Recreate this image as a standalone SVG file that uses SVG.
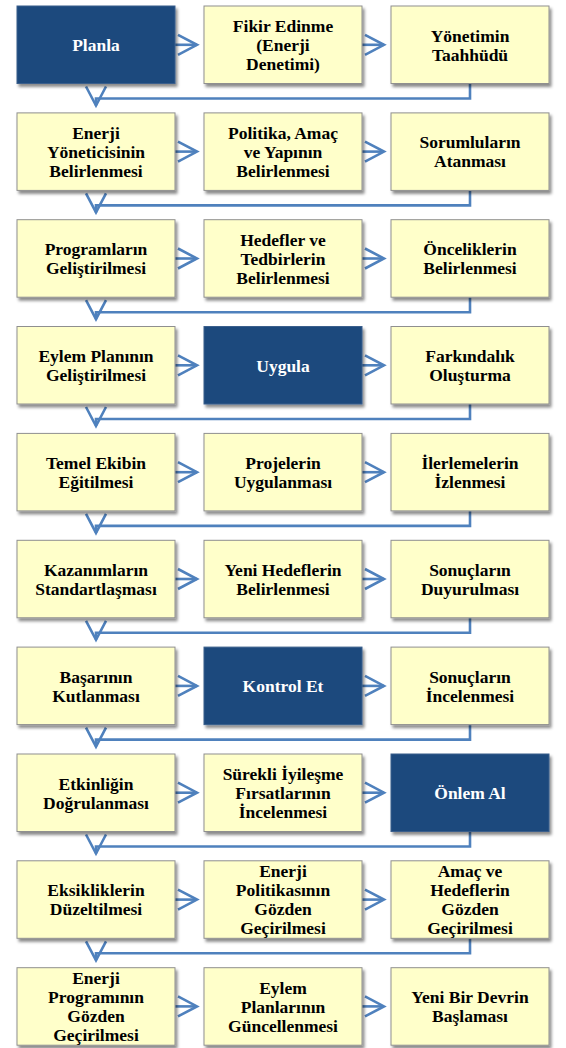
<svg xmlns="http://www.w3.org/2000/svg" width="566" height="1048" viewBox="0 0 566 1048">
<defs>
<filter id="sh" x="-10%" y="-10%" width="125%" height="130%">
<feDropShadow dx="2" dy="3" stdDeviation="1.6" flood-color="#000" flood-opacity="0.45"/>
</filter>
<marker id="chev" markerUnits="userSpaceOnUse" markerWidth="24" markerHeight="24" viewBox="0 0 24 24" refX="21" refY="12" orient="auto">
<path d="M2,2 L21,12 L2,22" fill="none" stroke="#4F81BD" stroke-width="2.6"/>
</marker>
</defs>
<style>
.b{fill:#FFFFCA;stroke:#8F8F8F;stroke-width:1;filter:url(#sh)}
.d{fill:#1F497D;stroke:#3A5F8C;stroke-width:1;filter:url(#sh)}
.w{fill:#fff}
.c{fill:none;stroke:#4F81BD;stroke-width:2.6}
</style>
<g id="connectors">
<path class="c" marker-end="url(#chev)" d="M175,44.8H197"/><path class="c" marker-end="url(#chev)" d="M362,44.8H384"/>
<path class="c" marker-end="url(#chev)" d="M175,151.6H197"/><path class="c" marker-end="url(#chev)" d="M362,151.6H384"/>
<path class="c" marker-end="url(#chev)" d="M175,258.5H197"/><path class="c" marker-end="url(#chev)" d="M362,258.5H384"/>
<path class="c" marker-end="url(#chev)" d="M175,365.3H197"/><path class="c" marker-end="url(#chev)" d="M362,365.3H384"/>
<path class="c" marker-end="url(#chev)" d="M175,472.2H197"/><path class="c" marker-end="url(#chev)" d="M362,472.2H384"/>
<path class="c" marker-end="url(#chev)" d="M175,579H197"/><path class="c" marker-end="url(#chev)" d="M362,579H384"/>
<path class="c" marker-end="url(#chev)" d="M175,685.9H197"/><path class="c" marker-end="url(#chev)" d="M362,685.9H384"/>
<path class="c" marker-end="url(#chev)" d="M175,792.7H197"/><path class="c" marker-end="url(#chev)" d="M362,792.7H384"/>
<path class="c" marker-end="url(#chev)" d="M175,899.6H197"/><path class="c" marker-end="url(#chev)" d="M362,899.6H384"/>
<path class="c" marker-end="url(#chev)" d="M175,1006.4H197"/><path class="c" marker-end="url(#chev)" d="M362,1006.4H384"/>
<path class="c" marker-end="url(#chev)" d="M470,83.5V98.5H96V105.5"/>
<path class="c" marker-end="url(#chev)" d="M470,190.4V205.4H96V212.4"/>
<path class="c" marker-end="url(#chev)" d="M470,297.2V312.2H96V319.2"/>
<path class="c" marker-end="url(#chev)" d="M470,404V419H96V426"/>
<path class="c" marker-end="url(#chev)" d="M470,510.9V525.9H96V532.9"/>
<path class="c" marker-end="url(#chev)" d="M470,617.8V632.8H96V639.8"/>
<path class="c" marker-end="url(#chev)" d="M470,724.6V739.6H96V746.6"/>
<path class="c" marker-end="url(#chev)" d="M470,831.5V846.5H96V853.5"/>
<path class="c" marker-end="url(#chev)" d="M470,938.3V953.3H96V960.3"/>
</g>
<g font-weight="bold" font-size="17.5" text-anchor="middle">
<g id="n1"><rect class="d" x="17" y="6" width="158" height="77.5"/><text font-family="Liberation Serif" class="w" x="96" y="51">Planla</text></g>
<g id="n2"><rect class="b" x="204" y="6" width="158" height="77.5"/><text font-family="Liberation Serif" x="283" y="32">Fikir Edinme</text><text font-family="Liberation Serif" x="283" y="51">(Enerji</text><text font-family="Liberation Serif" x="283" y="70">Denetimi)</text></g>
<g id="n3"><rect class="b" x="391" y="6" width="158" height="77.5"/><text font-family="Liberation Serif" x="470" y="41.5">Yönetimin</text><text font-family="Liberation Serif" x="470" y="60.5">Taahhüdü</text></g>
<g id="n4"><rect class="b" x="17" y="112.9" width="158" height="77.5"/><text font-family="Liberation Serif" x="96" y="138.8">Enerji</text><text font-family="Liberation Serif" x="96" y="157.8">Yöneticisinin</text><text font-family="Liberation Serif" x="96" y="176.8">Belirlenmesi</text></g>
<g id="n5"><rect class="b" x="204" y="112.9" width="158" height="77.5"/><text font-family="Liberation Serif" x="283" y="138.8">Politika, Amaç</text><text font-family="Liberation Serif" x="283" y="157.8">ve Yapının</text><text font-family="Liberation Serif" x="283" y="176.8">Belirlenmesi</text></g>
<g id="n6"><rect class="b" x="391" y="112.9" width="158" height="77.5"/><text font-family="Liberation Serif" x="470" y="148.3">Sorumluların</text><text font-family="Liberation Serif" x="470" y="167.3">Atanması</text></g>
<g id="n7"><rect class="b" x="17" y="219.7" width="158" height="77.5"/><text font-family="Liberation Serif" x="96" y="255.2">Programların</text><text font-family="Liberation Serif" x="96" y="274.2">Geliştirilmesi</text></g>
<g id="n8"><rect class="b" x="204" y="219.7" width="158" height="77.5"/><text font-family="Liberation Serif" x="283" y="245.7">Hedefler ve</text><text font-family="Liberation Serif" x="283" y="264.7">Tedbirlerin</text><text font-family="Liberation Serif" x="283" y="283.7">Belirlenmesi</text></g>
<g id="n9"><rect class="b" x="391" y="219.7" width="158" height="77.5"/><text font-family="Liberation Serif" x="470" y="255.2">Önceliklerin</text><text font-family="Liberation Serif" x="470" y="274.2">Belirlenmesi</text></g>
<g id="n10"><rect class="b" x="17" y="326.5" width="158" height="77.5"/><text font-family="Liberation Serif" x="96" y="362">Eylem Planının</text><text font-family="Liberation Serif" x="96" y="381">Geliştirilmesi</text></g>
<g id="n11"><rect class="d" x="204" y="326.5" width="158" height="77.5"/><text font-family="Liberation Serif" class="w" x="283" y="371.5">Uygula</text></g>
<g id="n12"><rect class="b" x="391" y="326.5" width="158" height="77.5"/><text font-family="Liberation Serif" x="470" y="362">Farkındalık</text><text font-family="Liberation Serif" x="470" y="381">Oluşturma</text></g>
<g id="n13"><rect class="b" x="17" y="433.4" width="158" height="77.5"/><text font-family="Liberation Serif" x="96" y="468.9">Temel Ekibin</text><text font-family="Liberation Serif" x="96" y="487.9">Eğitilmesi</text></g>
<g id="n14"><rect class="b" x="204" y="433.4" width="158" height="77.5"/><text font-family="Liberation Serif" x="283" y="468.9">Projelerin</text><text font-family="Liberation Serif" x="283" y="487.9">Uygulanması</text></g>
<g id="n15"><rect class="b" x="391" y="433.4" width="158" height="77.5"/><text font-family="Liberation Serif" x="470" y="468.9">İlerlemelerin</text><text font-family="Liberation Serif" x="470" y="487.9">İzlenmesi</text></g>
<g id="n16"><rect class="b" x="17" y="540.3" width="158" height="77.5"/><text font-family="Liberation Serif" x="96" y="575.8">Kazanımların</text><text font-family="Liberation Serif" x="96" y="594.8">Standartlaşması</text></g>
<g id="n17"><rect class="b" x="204" y="540.3" width="158" height="77.5"/><text font-family="Liberation Serif" x="283" y="575.8">Yeni Hedeflerin</text><text font-family="Liberation Serif" x="283" y="594.8">Belirlenmesi</text></g>
<g id="n18"><rect class="b" x="391" y="540.3" width="158" height="77.5"/><text font-family="Liberation Serif" x="470" y="575.8">Sonuçların</text><text font-family="Liberation Serif" x="470" y="594.8">Duyurulması</text></g>
<g id="n19"><rect class="b" x="17" y="647.1" width="158" height="77.5"/><text font-family="Liberation Serif" x="96" y="682.6">Başarının</text><text font-family="Liberation Serif" x="96" y="701.6">Kutlanması</text></g>
<g id="n20"><rect class="d" x="204" y="647.1" width="158" height="77.5"/><text font-family="Liberation Serif" class="w" x="283" y="692.1">Kontrol Et</text></g>
<g id="n21"><rect class="b" x="391" y="647.1" width="158" height="77.5"/><text font-family="Liberation Serif" x="470" y="682.6">Sonuçların</text><text font-family="Liberation Serif" x="470" y="701.6">İncelenmesi</text></g>
<g id="n22"><rect class="b" x="17" y="754" width="158" height="77.5"/><text font-family="Liberation Serif" x="96" y="789.5">Etkinliğin</text><text font-family="Liberation Serif" x="96" y="808.5">Doğrulanması</text></g>
<g id="n23"><rect class="b" x="204" y="754" width="158" height="77.5"/><text font-family="Liberation Serif" x="283" y="780">Sürekli İyileşme</text><text font-family="Liberation Serif" x="283" y="799">Fırsatlarının</text><text font-family="Liberation Serif" x="283" y="818">İncelenmesi</text></g>
<g id="n24"><rect class="d" x="391" y="754" width="158" height="77.5"/><text font-family="Liberation Serif" class="w" x="470" y="799">Önlem Al</text></g>
<g id="n25"><rect class="b" x="17" y="860.8" width="158" height="77.5"/><text font-family="Liberation Serif" x="96" y="896.3">Eksikliklerin</text><text font-family="Liberation Serif" x="96" y="915.3">Düzeltilmesi</text></g>
<g id="n26"><rect class="b" x="204" y="860.8" width="158" height="77.5"/><text font-family="Liberation Serif" x="283" y="877.3">Enerji</text><text font-family="Liberation Serif" x="283" y="896.3">Politikasının</text><text font-family="Liberation Serif" x="283" y="915.3">Gözden</text><text font-family="Liberation Serif" x="283" y="934.3">Geçirilmesi</text></g>
<g id="n27"><rect class="b" x="391" y="860.8" width="158" height="77.5"/><text font-family="Liberation Serif" x="470" y="877.3">Amaç ve</text><text font-family="Liberation Serif" x="470" y="896.3">Hedeflerin</text><text font-family="Liberation Serif" x="470" y="915.3">Gözden</text><text font-family="Liberation Serif" x="470" y="934.3">Geçirilmesi</text></g>
<g id="n28"><rect class="b" x="17" y="967.7" width="158" height="77.5"/><text font-family="Liberation Serif" x="96" y="984.2">Enerji</text><text font-family="Liberation Serif" x="96" y="1003.2">Programının</text><text font-family="Liberation Serif" x="96" y="1022.2">Gözden</text><text font-family="Liberation Serif" x="96" y="1041.2">Geçirilmesi</text></g>
<g id="n29"><rect class="b" x="204" y="967.7" width="158" height="77.5"/><text font-family="Liberation Serif" x="283" y="993.7">Eylem</text><text font-family="Liberation Serif" x="283" y="1012.7">Planlarının</text><text font-family="Liberation Serif" x="283" y="1031.7">Güncellenmesi</text></g>
<g id="n30"><rect class="b" x="391" y="967.7" width="158" height="77.5"/><text font-family="Liberation Serif" x="470" y="1003.2">Yeni Bir Devrin</text><text font-family="Liberation Serif" x="470" y="1022.2">Başlaması</text></g>
</g>
</svg>
